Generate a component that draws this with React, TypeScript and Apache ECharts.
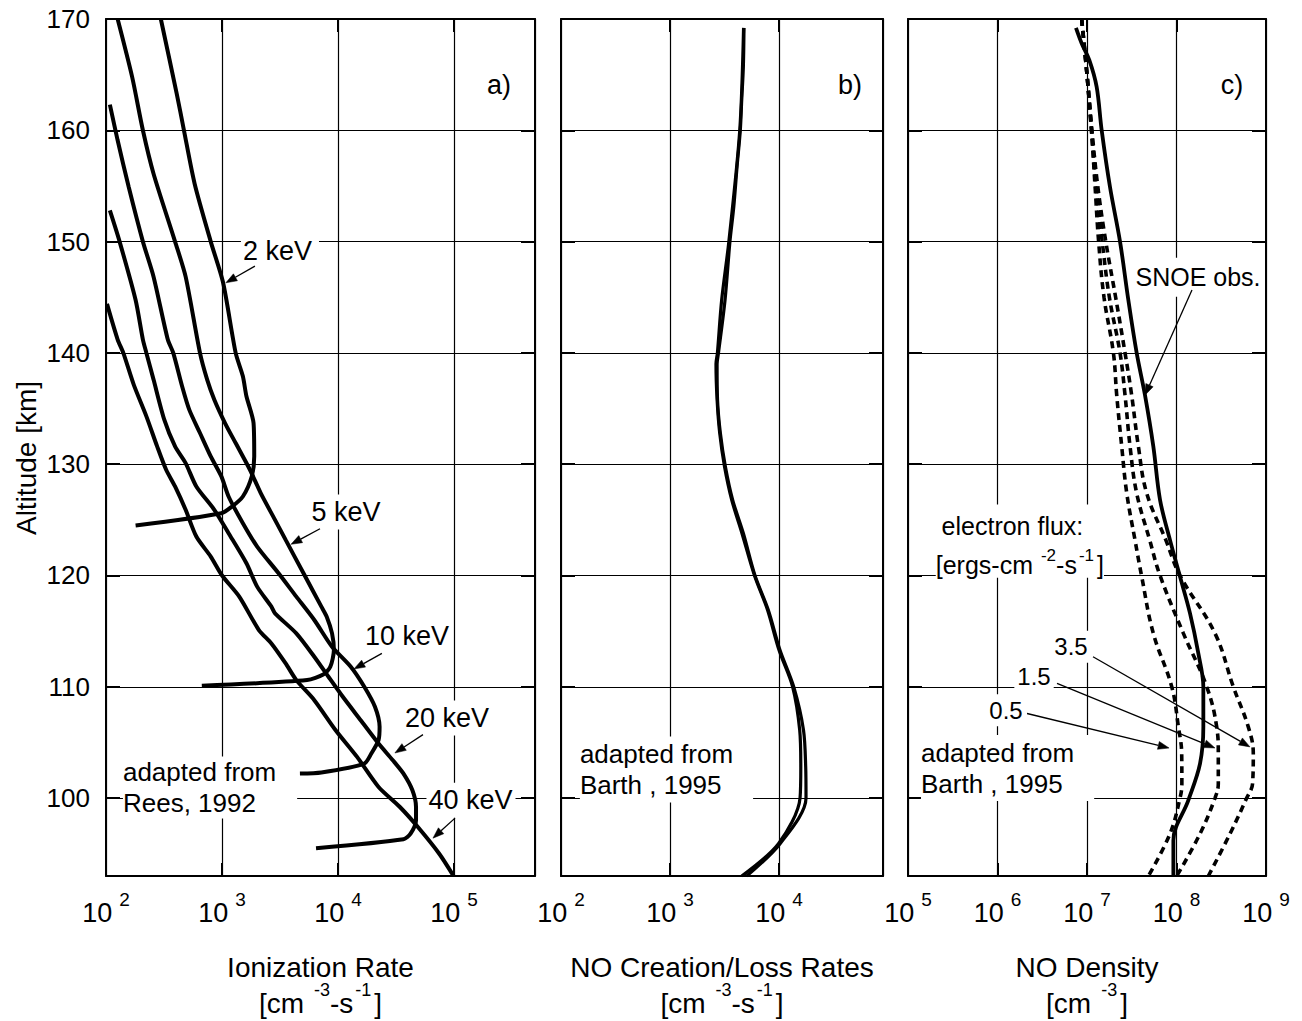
import React, { useEffect, useRef } from 'react';
import * as echarts from 'echarts';

const FONT = '"Liberation Sans", Arial, Helvetica, sans-serif';

// ---------- Panel a: ionization rate [cm^-3 s^-1] vs altitude [km] ----------
const alt2keV = [170, 163.3, 160, 155.2, 150, 146.3, 140, 137.9, 136.1, 133.7, 130.7, 128.9, 127.1, 126.2, 125.6, 124.5];
const rate2keV = [297, 407, 470, 581, 800, 1023, 1312, 1514, 1625, 1871, 1897, 1806, 1514, 1222, 988, 180];

const alt5keV = [170, 164.8, 160, 156.1, 150, 146.85, 140, 137.6, 135.8, 133.7, 131.9, 129.5, 127.4, 125.0, 123.2, 120.2, 117.2, 116.3, 114.8, 113.3, 111.8, 111.1, 110.6, 110.1];
const rate5keV = [126, 168, 208, 257, 394, 486, 646, 745, 859, 1062, 1312, 1742, 2158, 2866, 3541, 5047, 7194, 8000, 8892, 9226, 8590, 7462, 5420, 670];

const alt10keV = [162.3, 159.1, 154.9, 150, 146.85, 141.2, 140, 137.0, 134.9, 132.8, 130.7, 128.9, 127.1, 124.7, 122.6, 120.2, 118.1, 116.0, 113.6, 111.8, 110.0, 108.2, 106.4, 105.2, 104.0, 103.1, 102.3, 102.2];
const rate10keV = [108, 126, 157, 208, 257, 341, 380, 453, 522, 646, 800, 988, 1140, 1514, 2010, 3076, 4375, 6252, 8892, 12900, 16870, 20850, 22860, 22390, 19400, 16870, 7194, 4700];

const alt20keV = [152.8, 150, 144.75, 141.2, 140, 137.6, 134.0, 131.6, 130.1, 128.0, 125.9, 123.8, 121.1, 119.0, 117.2, 116.6, 114.8, 112.7, 110.9, 109.1, 107.0, 104.9, 103.4, 102.2, 100.7, 99.2, 98.0, 96.8, 96.3, 95.5];
const rate20keV = [108, 131, 180, 208, 223, 257, 318, 394, 486, 601, 859, 1140, 1625, 2010, 2667, 2866, 4375, 6252, 8280, 11010, 15700, 22390, 29720, 36730, 43850, 47100, 47100, 42280, 36730, 6470];

const alt40keV = [144.4, 141.2, 140, 137.1, 134.3, 131.6, 129.5, 128.0, 125.9, 123.5, 121.7, 120, 118.1, 115.1, 113.9, 112.1, 110.6, 108.8, 106.1, 103.7, 101.0, 99.2, 97.4, 95.0, 93];
const rate40keV = [102, 126, 141, 174, 223, 276, 330, 394, 486, 601, 800, 1002, 1409, 2080, 2667, 3541, 4375, 6252, 9550, 14620, 22390, 34200, 48870, 74700, 99300];

// ---------- Panel b: NO creation / loss rates ----------
const altCreation = [169.2, 165.7, 162.7, 160, 156.7, 153.1, 150, 144.75, 140, 139, 135.8, 132.8, 129.8, 126.8, 123.8, 120, 116.9, 113.3, 110, 106.1, 102.8, 100, 95.9, 93];
const rateCreation = [4775, 4710, 4550, 4416, 4121, 3846, 3548, 3199, 2786, 2704, 2729, 2897, 3221, 3758, 4710, 6026, 7980, 10210, 13650, 16790, 17580, 17700, 10230, 5058];

const altLoss = [169.2, 160, 150, 144.75, 140, 139, 135.8, 132.8, 129.8, 126.8, 123.8, 120, 116.9, 113.3, 110, 106.1, 102.8, 100, 95.9, 93];
const rateLoss = [4732, 4365, 3467, 2979, 2723, 2642, 2704, 2858, 3162, 3681, 4571, 5957, 7852, 10000, 13340, 15490, 15850, 15600, 9886, 4550];

// ---------- Panel c: NO density ----------
const altSnoe = [169.2, 167.8, 166.3, 163.9, 160, 154.9, 150, 144.75, 140, 136.2, 131.6, 126.8, 123.2, 119.9, 116.6, 113.0, 110.0, 106.4, 103.1, 99.8, 96.2, 93];
const densSnoe = [7.53e6, 8.73e6, 1.062e7, 1.282e7, 1.459e7, 1.807e7, 2.339e7, 2.897e7, 3.589e7, 4.446e7, 5.508e7, 6.546e7, 8.453e7, 1.094e8, 1.416e8, 1.754e8, 1.995e8, 1.995e8, 1.832e8, 1.355e8, 9.226e7, 9.226e7];

const altFlux = [170, 165, 160, 155, 150, 145, 140, 136.2, 131.6, 127.4, 123.2, 120, 114.8, 110, 106.4, 104, 101.3, 100, 96.8, 93];
const densFlux05 = [8.71e6, 1.0e7, 1.122e7, 1.23e7, 1.349e7, 1.549e7, 1.972e7, 2.148e7, 2.443e7, 2.78e7, 3.436e7, 4.064e7, 5.508e7, 8.851e7, 1.05e8, 1.143e8, 1.148e8, 1.094e8, 8.453e7, 4.853e7];
const densFlux15 = [8.71e6, 1.0e7, 1.122e7, 1.259e7, 1.479e7, 1.778e7, 2.339e7, 2.661e7, 3.027e7, 3.589e7, 5.012e7, 6.546e7, 1.194e8, 2.178e8, 2.812e8, 2.931e8, 2.931e8, 2.692e8, 1.832e8, 1.007e8];
const densFlux35 = [8.71e6, 1.0e7, 1.135e7, 1.318e7, 1.622e7, 2.089e7, 2.661e7, 3.155e7, 3.75e7, 4.645e7, 7.586e7, 1.094e8, 2.692e8, 4.315e8, 6.339e8, 7.211e8, 7.079e8, 6.081e8, 3.963e8, 2.27e8];

// ---------- axis ranges ----------
const xRangeA = [100, 5e5];
const xRangeB = [100, 9e4];
const xRangeC = [1e5, 1e9];
const altRange = [93, 170];

// ---------- annotations (data coordinates of each panel) ----------
const textNotes = [
  { p: 0, v: 244300, a: 164.07, text: 'a)', size: 27, align: 'center' },
  { p: 0, v: 3162, a: 149.2, text: '2 keV', size: 27, align: 'center', pad: [2, 7, 2, 2] },
  { p: 0, v: 11720, a: 125.7, text: '5 keV', size: 27, align: 'center', pad: [2, 3, 2, 3] },
  { p: 0, v: 39360, a: 114.6, text: '10 keV', size: 27, align: 'center', pad: [2, 3, 2, 3] },
  { p: 0, v: 87100, a: 107.2, text: '20 keV', size: 27, align: 'center', pad: [2, 3, 2, 3] },
  { p: 0, v: 140300, a: 99.8, text: '40 keV', size: 27, align: 'center', pad: [2, 3, 2, 2] },
  { p: 0, v: 140, a: 100.95, text: 'adapted from\nRees, 1992', size: 26, align: 'left', pad: [0, 21, 0, 0], lh: 31 },
  { p: 1, v: 44770, a: 164.07, text: 'b)', size: 27, align: 'center' },
  { p: 1, v: 149, a: 102.57, text: 'adapted from\nBarth , 1995', size: 26, align: 'left', pad: [2, 20, 2, 0], lh: 31 },
  { p: 2, v: 4.17e8, a: 164.07, text: 'c)', size: 27, align: 'center' },
  { p: 2, v: 1.738e8, a: 146.8, text: 'SNOE obs.', size: 25, align: 'center', pad: [9, 2, 1, 2] },
  { p: 2, v: 1.671e6, a: 124.45, text: 'electron flux:', size: 25, align: 'center', pad: [11, 20, 3, 10] },
  { p: 2, v: 6.62e6, a: 113.6, text: '3.5', size: 24, align: 'center', pad: [2, 3, 2, 3] },
  { p: 2, v: 2.559e6, a: 110.9, text: '1.5', size: 24, align: 'center', pad: [2, 3, 2, 3] },
  { p: 2, v: 1.245e6, a: 107.9, text: '0.5', size: 24, align: 'center', pad: [2, 3, 2, 3] },
  { p: 2, v: 1.396e5, a: 102.7, text: 'adapted from\nBarth , 1995', size: 26, align: 'left', pad: [2, 20, 2, 0], lh: 31 },
];

const arrowNotes = [
  { p: 0, from: [1923, 147.8], to: [1081, 146.3] },
  { p: 0, from: [7000, 124.2], to: [3936, 122.8] },
  { p: 0, from: [23930, 113.0], to: [13740, 111.6] },
  { p: 0, from: [54080, 105.7], to: [30970, 104.05] },
  { p: 0, from: [102100, 98.2], to: [65920, 96.4] },
  { p: 2, from: [1.489e8, 145.65], to: [4.446e7, 136.2] },
  { p: 2, from: [1.167e7, 112.7], to: [6.62e8, 104.6] },
  { p: 2, from: [4.624e6, 110.3], to: [2.692e8, 104.5] },
  { p: 2, from: [2.138e6, 107.6], to: [8.26e7, 104.5] },
];

const fluxUnitNote = { p: 2, v: 1.778e6, a: 121.2 };

// ---------- layout ----------
const GRIDS = [
  { left: 106, top: 19, width: 429, height: 857 },
  { left: 561, top: 19, width: 322, height: 857 },
  { left: 908, top: 19, width: 358, height: 857 },
];

const pairs = (xs: number[], ys: number[]) => xs.map((x, i) => [x, ys[i]]);

const tickRich = {
  b: { fontSize: 27, fontFamily: FONT, color: '#000', lineHeight: 36, verticalAlign: 'bottom' },
  s: { fontSize: 19, fontFamily: FONT, color: '#000', lineHeight: 19, verticalAlign: 'top', padding: [0, 0, 0, 7] },
};

function xAxesFor(gridIndex: number, range: number[], showMax: boolean) {
  const common: any = {
    type: 'log',
    logBase: 10,
    min: range[0],
    max: range[1],
    gridIndex,
    axisLine: { show: true, onZero: false, lineStyle: { color: '#000', width: 2 } },
    axisTick: { show: true, inside: true, length: 13, lineStyle: { color: '#000', width: 2 } },
    minorTick: { show: false },
    minorSplitLine: { show: false },
  };
  return [
    {
      ...common,
      position: 'bottom',
      splitLine: { show: true, lineStyle: { color: '#000', width: 1.2 } },
      axisLabel: {
        show: true,
        margin: 14,
        showMaxLabel: showMax,
        showMinLabel: true,
        formatter: (v: number) => `{b|10}{s|${Math.round(Math.log10(v))}}`,
        rich: tickRich,
      },
    },
    {
      ...common,
      position: 'top',
      splitLine: { show: false },
      axisLabel: { show: false },
    },
  ];
}

function yAxesFor(gridIndex: number, showLabels: boolean) {
  const common: any = {
    type: 'value',
    min: altRange[0],
    max: altRange[1],
    splitNumber: 8,
    minInterval: 10,
    maxInterval: 10,
    gridIndex,
    axisLine: { show: true, onZero: false, lineStyle: { color: '#000', width: 2 } },
    axisTick: { show: true, inside: true, length: 14, lineStyle: { color: '#000', width: 2 } },
  };
  return [
    {
      ...common,
      position: 'left',
      splitLine: { show: true, lineStyle: { color: '#000', width: 1.2 } },
      axisLabel: {
        show: showLabels,
        fontSize: 26,
        fontFamily: FONT,
        color: '#000',
        margin: 16,
        showMinLabel: false,
        showMaxLabel: true,
      },
    },
    {
      ...common,
      position: 'right',
      splitLine: { show: false },
      axisLabel: { show: false },
    },
  ];
}

function lineSeries(name: string, xs: number[], ys: number[], panel: number, style: any = {}, smooth = 0.25) {
  return {
    type: 'line',
    name,
    data: pairs(xs, ys),
    xAxisIndex: panel * 2,
    yAxisIndex: panel * 2,
    symbol: 'none',
    smooth,
    silent: true,
    z: 3,
    lineStyle: { color: '#000', width: 4, ...style },
  };
}

function buildOption() {
  const dash = { type: [7, 5], width: 3.6 };
  return {
    animation: false,
    backgroundColor: '#fff',
    textStyle: { fontFamily: FONT, color: '#000' },
    grid: GRIDS.map((g) => ({ ...g, containLabel: false, outerBoundsMode: 'none', show: false })),
    xAxis: [...xAxesFor(0, xRangeA, false), ...xAxesFor(1, xRangeB, false), ...xAxesFor(2, xRangeC, true)],
    yAxis: [...yAxesFor(0, true), ...yAxesFor(1, false), ...yAxesFor(2, false)],
    series: [
      lineSeries('2 keV', rate2keV, alt2keV, 0),
      lineSeries('5 keV', rate5keV, alt5keV, 0),
      lineSeries('10 keV', rate10keV, alt10keV, 0),
      lineSeries('20 keV', rate20keV, alt20keV, 0),
      lineSeries('40 keV', rate40keV, alt40keV, 0),
      lineSeries('creation', rateCreation, altCreation, 1, { width: 3.2 }, 0.3),
      lineSeries('loss', rateLoss, altLoss, 1, { width: 3.2 }, 0.3),
      lineSeries('flux 0.5', densFlux05, altFlux, 2, dash, 0.4),
      lineSeries('flux 1.5', densFlux15, altFlux, 2, dash, 0.4),
      lineSeries('flux 3.5', densFlux35, altFlux, 2, dash, 0.4),
      lineSeries('SNOE obs.', densSnoe, altSnoe, 2, { width: 3.8 }, 0.35),
    ],
  };
}

function textEl(x: number, y: number, text: string, size: number, align: string, pad: number[] | null, lh?: number, z = 1, bg = true) {
  return {
    type: 'text',
    x,
    y,
    z,
    silent: true,
    style: {
      text,
      fontSize: size,
      fontFamily: FONT,
      fill: '#000',
      align,
      verticalAlign: 'middle',
      lineHeight: lh || size + 4,
      backgroundColor: bg ? '#fff' : undefined,
      padding: pad || [0, 0, 0, 0],
    },
  };
}

function supText(x: number, y: number, text: string, base: number, baseLH: number, sup: number, gap: number, bg: boolean) {
  return {
    type: 'text',
    x,
    y,
    z: 1,
    silent: true,
    style: {
      text,
      align: 'center',
      verticalAlign: 'middle',
      fontFamily: FONT,
      fontSize: base,
      fill: '#000',
      backgroundColor: bg ? '#fff' : undefined,
      rich: {
        b: { fontSize: base, fontFamily: FONT, fill: '#000', lineHeight: baseLH, verticalAlign: 'bottom' },
        s: { fontSize: sup, fontFamily: FONT, fill: '#000', lineHeight: sup, verticalAlign: 'top', padding: [0, 0, 0, gap] },
        t: { fontSize: sup, fontFamily: FONT, fill: '#000', lineHeight: sup, verticalAlign: 'top', padding: [0, 3, 0, 2] },
        u: { fontSize: sup, fontFamily: FONT, fill: '#000', lineHeight: sup, verticalAlign: 'top', padding: [0, 3, 0, gap] },
      },
    },
  };
}

function arrowEls(p1: number[], p2: number[]) {
  const dx = p2[0] - p1[0];
  const dy = p2[1] - p1[1];
  const len = Math.hypot(dx, dy) || 1;
  const ux = dx / len;
  const uy = dy / len;
  const hl = 11;
  const hw = 4;
  const bx = p2[0] - ux * hl;
  const by = p2[1] - uy * hl;
  return [
    { type: 'line', z: 5, silent: true, shape: { x1: p1[0], y1: p1[1], x2: bx, y2: by }, style: { stroke: '#000', lineWidth: 1.3 } },
    {
      type: 'polygon',
      z: 5,
      silent: true,
      shape: { points: [[p2[0], p2[1]], [bx - uy * hw, by + ux * hw], [bx + uy * hw, by - ux * hw]] },
      style: { fill: '#000', stroke: '#000', lineWidth: 0.5 },
    },
  ];
}

function buildGraphics(chart: any) {
  const px = (p: number, v: number, a: number) => chart.convertToPixel({ xAxisIndex: p * 2, yAxisIndex: p * 2 }, [v, a]);
  const els: any[] = [];
  textNotes.forEach((n: any) => {
    const pt = px(n.p, n.v, n.a);
    els.push(textEl(pt[0], pt[1], n.text, n.size, n.align, n.pad || null, n.lh, 1, !!n.pad));
  });
  const fu = px(fluxUnitNote.p, fluxUnitNote.v, fluxUnitNote.a);
  els.push(supText(fu[0], fu[1], '{b|[ergs-cm}{s|-2}{b|-s}{t|-1}{b|]}', 25, 31, 17, 8, true));
  arrowNotes.forEach((n) => {
    const a = px(n.p, n.from[0], n.from[1]);
    const b = px(n.p, n.to[0], n.to[1]);
    els.push(...arrowEls(a, b));
  });
  // axis titles
  const titles = ['Ionization Rate', 'NO Creation/Loss Rates', 'NO Density'];
  const units = ['{b|[cm}{s|-3}{b|-s}{t|-1}{b|]}', '{b|[cm}{s|-3}{b|-s}{t|-1}{b|]}', '{b|[cm}{u|-3}{b|]}'];
  GRIDS.forEach((g, i) => {
    const cx = g.left + g.width / 2;
    els.push(textEl(cx, 967, titles[i], 28, 'center', null, 32, 1, false));
    els.push(supText(cx, 999, units[i], 28, 36, 18, 10, false));
  });
  els.push({
    type: 'text',
    x: 26,
    y: 458,
    rotation: Math.PI / 2,
    silent: true,
    style: { text: 'Altitude [km]', fontSize: 28, fontFamily: FONT, fill: '#000', align: 'center', verticalAlign: 'middle' },
  });
  return els;
}

export default function App() {
  const ref = useRef<HTMLDivElement>(null);
  useEffect(() => {
    if (!ref.current) return;
    const chart = echarts.init(ref.current, null, { renderer: 'svg' });
    chart.setOption(buildOption() as any);
    chart.setOption({ graphic: { elements: buildGraphics(chart) } } as any);
    return () => {
      chart.dispose();
    };
  }, []);
  return (
    <div
      ref={ref}
      style={{ position: 'absolute', left: 0, top: 0, width: 1302, height: 1021, background: '#fff' }}
    />
  );
}
